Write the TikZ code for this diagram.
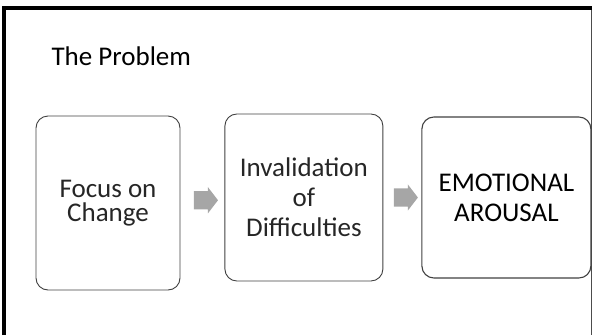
\documentclass[tikz,border=0pt]{standalone}
\usepackage{fontspec}
\setmainfont{Carlito}
\tikzstyle{block}=[draw=black!75, line width=0.9pt, rounded corners=12pt, align=center, inner sep=0pt]
\tikzstyle{flow}=[single arrow, fill=black!35, draw=none, inner xsep=0pt, inner ysep=9pt, minimum height=24pt, minimum width=0pt, single arrow head extend=4pt, single arrow tip angle=105]
\usetikzlibrary{shapes.arrows,positioning,calc}

\begin{document}
\begin{tikzpicture}[x=1pt,y=-1pt,node distance=44pt]
    \useasboundingbox (0,0) rectangle (592,335);
    % frame
    \draw[line width=3.5pt] (4,335) |- (592,8);
    \draw[black!70, line width=1pt] (591,10) -- (591,335);
    \node[anchor=base west, font=\fontsize{27}{30}\selectfont] (title) at (48,65) {The Problem};
    \node[block, minimum width=144pt, minimum height=174pt, text=black!85,
          font=\fontsize{27}{24.5}\selectfont] (focus) at (108,203) {Focus on\\Change};
    \node[block, minimum width=158pt, minimum height=167pt, text=black!85,
          font=\fontsize{27}{30}\selectfont, right=of focus, yshift=5.5pt] (inval) {Invalidation\\of\\Difficulties};
    \node[block, minimum width=169pt, minimum height=161pt, line width=1.1pt,
          font=\fontsize{27}{30}\selectfont, right=38pt of inval] (arousal) {EMOTIONAL\\AROUSAL};
    \node[flow] (f1) at ($(focus.east)!0.5!(inval.west)$) {};
    \node[flow] (f2) at ($(inval.east)!0.5!(arousal.west)$) {};
\end{tikzpicture}
\end{document}
